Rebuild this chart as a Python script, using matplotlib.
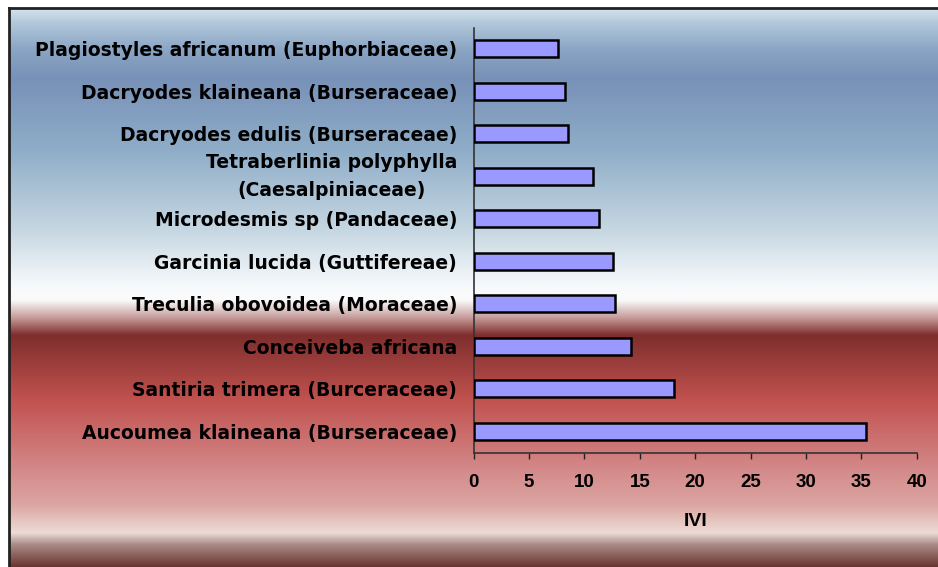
import numpy as np
import matplotlib
matplotlib.use("Agg")
import matplotlib.pyplot as plt
from matplotlib.colors import LinearSegmentedColormap

# ---- data ----
species = [
    "Aucoumea klaineana (Burseraceae)",
    "Santiria trimera (Burceraceae)",
    "Conceiveba africana",
    "Treculia obovoidea (Moraceae)",
    "Garcinia lucida (Guttifereae)",
    "Microdesmis sp (Pandaceae)",
    "Tetraberlinia polyphylla\n(Caesalpiniaceae)",
    "Dacryodes edulis (Burseraceae)",
    "Dacryodes klaineana (Burseraceae)",
    "Plagiostyles africanum (Euphorbiaceae)",
]
ivi = [35.4, 18.1, 14.2, 12.8, 12.6, 11.3, 10.8, 8.5, 8.2, 7.6]
xticks = [0, 5, 10, 15, 20, 25, 30, 35, 40]
xlabel = "IVI"

W, H = 938, 567
fig = plt.figure(figsize=(W / 100, H / 100), dpi=100)
plt.rcParams['font.family'] = ['Liberation Sans', 'DejaVu Sans']

# ---- background gradient (figure level) ----
x0, y0 = 9, 8  # pixel offsets of the chart area frame
bg = fig.add_axes([x0 / W, 0, 1 - x0 / W, 1 - y0 / H])
bg.set_axis_off()
stops_px = [8, 22, 48, 78, 150, 230, 285, 300, 318, 335, 400, 470, 505, 533, 545, 567]
stops_col = ["#d6e4ee", "#b3c9db", "#8ca6c5", "#7891b8", "#8fadc8", "#c6d7e2",
             "#f6f9fb", "#fbfbfb", "#c49a98", "#7e2e2d", "#c1524f", "#d4898a",
             "#dca6a2", "#ecdcd6", "#a98a86", "#6a3430"]
pos = [(p - 8) / (567 - 8) for p in stops_px]
cmap_bg = LinearSegmentedColormap.from_list("bg", list(zip(pos, stops_col)), N=1024)
grad = np.linspace(0, 1, 1024).reshape(-1, 1)
bg.imshow(grad, aspect="auto", cmap=cmap_bg, extent=[0, 1, 0, 1], origin="upper")
bg.set_xlim(0, 1)
bg.set_ylim(0, 1)
# frame lines (left and top)
fig.add_artist(plt.Line2D([x0 / W, x0 / W], [0, 1 - y0 / H], color="#222222", lw=2,
                          transform=fig.transFigure))
fig.add_artist(plt.Line2D([x0 / W, 1], [1 - y0 / H, 1 - y0 / H], color="#222222", lw=2,
                          transform=fig.transFigure))

# ---- main axes ----
left, right, bottom, top = 473.7, 916.7, 452.7, 27.7
ax = fig.add_axes([left / W, 1 - bottom / H, (right - left) / W, (bottom - top) / H])
ax.patch.set_alpha(0)

ypos = np.arange(len(species))
bars = ax.barh(ypos, ivi, height=0.4, facecolor="#9999ff", edgecolor="black",
               linewidth=1.8, zorder=3)

bar_cmap = LinearSegmentedColormap.from_list(
    "bar", [(0, "#45457e"), (0.12, "#6464b4"), (0.3, "#8c8cee"), (0.5, "#9a9aff"),
            (0.7, "#8c8cee"), (0.88, "#6464b4"), (1, "#45457e")])
g = np.linspace(0, 1, 64).reshape(-1, 1)
for b in bars:
    bx, by = b.get_x(), b.get_y()
    bw, bh = b.get_width(), b.get_height()
    im = ax.imshow(g, aspect="auto", cmap=bar_cmap, extent=[bx, bx + bw, by, by + bh],
                   origin="lower", zorder=2.5)
    im.set_clip_path(b)

ax.set_xlim(0, 40)
ax.set_ylim(-0.5, len(species) - 0.5)
ax.set_xticks(xticks)
ax.set_xticklabels([str(t) for t in xticks], fontsize=13.5, fontweight="bold")
ax.set_yticks(ypos)
ax.set_yticklabels(species, fontsize=13.5, fontweight="bold", multialignment="center",
                   family=["DejaVu Sans"])
for lbl in ax.get_yticklabels():
    if "\n" in lbl.get_text():
        lbl.set_linespacing(1.55)
        lbl.set_verticalalignment("center")
ax.tick_params(axis="y", length=0, pad=12)
ax.tick_params(axis="x", direction="out", length=4, width=1, color="#222222", pad=11)
ax.set_xlabel(xlabel, fontsize=14, fontweight="bold", labelpad=16)

for s in ["top", "right"]:
    ax.spines[s].set_visible(False)
for s in ["left", "bottom"]:
    ax.spines[s].set_color("#333333")
    ax.spines[s].set_linewidth(1.2)

fig.savefig("out.png", dpi=100)
